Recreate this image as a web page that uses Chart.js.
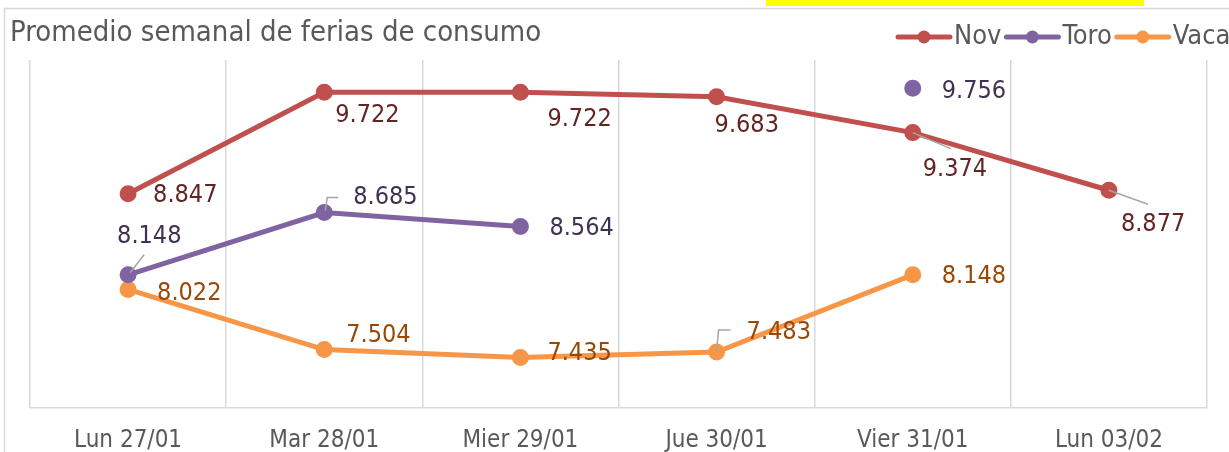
<!DOCTYPE html>
<html>
<head>
<meta charset="utf-8">
<script src="https://cdn.jsdelivr.net/npm/chart.js@4"></script>
<style>
  html, body { margin: 0; padding: 0; background: #fff; }
  #wrap { position: relative; width: 1229px; height: 452px; overflow: hidden; }
  #mark { position: absolute; left: 766px; top: 0; width: 378px; height: 6px; background: #ffff00; }
  canvas { position: absolute; left: 0; top: 0; }
</style>
</head>
<body>
<div id="wrap">
  <canvas id="chart" width="1229" height="452"></canvas>
  <div id="mark"></div>
</div>
<script>
// data
const dias = ['Lun 27/01', 'Mar 28/01', 'Mier 29/01', 'Jue 30/01', 'Vier 31/01', 'Lun 03/02'];
const nov  = [8.847, 9.722, 9.722, 9.683, 9.374, 8.877];
const toro = [8.148, 8.685, 8.564, null, 9.756, null];
const vaca = [8.022, 7.504, 7.435, 7.483, 8.148, null];

const FONT = '"DejaVu Sans Condensed", "DejaVu Sans", sans-serif';

// label placement: [dx, dy] of text left/middle relative to the point
const labelPos = {
    Nov:  [[25, 2], [11, 23], [27, 27], [-2, 29], [10, 37], [12, 34]],
    Toro: [[-11, -38], [29, -15], [29, 2], null, [29, 3], null],
    Vaca: [[29, 4], [22, -14], [27, -4], [30, -19], [29, 2], null]
};
// leader lines, relative to the point
const leaders = {
    Nov:  { 4: [[0, 0], [38, 16]], 5: [[0, 0], [39, 14]] },
    Toro: { 0: [[2, -2], [16, -20]], 1: [[1, -2], [3, -15], [14, -15]] },
    Vaca: { 3: [[0, -2], [2, -22], [14, -22]] }
};

const labelPlugin = {
    id: 'labels',
    afterDatasetsDraw(chart) {
        const ctx = chart.ctx;
        ctx.save();
        chart.data.datasets.forEach((ds, i) => {
            const meta = chart.getDatasetMeta(i);
            meta.data.forEach((pt, j) => {
                if (ds.data[j] == null) return;
                const lead = (leaders[ds.label] || {})[j];
                if (lead) {
                    ctx.strokeStyle = '#a6a6a6';
                    ctx.lineWidth = 1.5;
                    ctx.beginPath();
                    lead.forEach((p, k) => {
                        if (k === 0) ctx.moveTo(pt.x + p[0], pt.y + p[1]);
                        else ctx.lineTo(pt.x + p[0], pt.y + p[1]);
                    });
                    ctx.stroke();
                }
                const off = labelPos[ds.label][j];
                ctx.fillStyle = ds.labelColor;
                ctx.font = '25px ' + FONT;
                ctx.textAlign = 'left';
                ctx.textBaseline = 'middle';
                ctx.fillText(ds.data[j].toFixed(3), pt.x + off[0], pt.y + off[1]);
            });
        });
        ctx.restore();
    }
};

const framePlugin = {
    id: 'frame',
    afterDraw(chart) {
        const ctx = chart.ctx;
        ctx.save();
        // panel border
        ctx.strokeStyle = '#d9d9d9';
        ctx.lineWidth = 1.5;
        ctx.beginPath();
        ctx.moveTo(4.5, 452);
        ctx.lineTo(4.5, 8.5);
        ctx.lineTo(1229, 8.5);
        ctx.stroke();
        // title
        ctx.fillStyle = '#595959';
        ctx.font = '29px ' + FONT;
        ctx.textAlign = 'left';
        ctx.textBaseline = 'middle';
        ctx.fillText('Promedio semanal de ferias de consumo', 10, 33);
        // legend
        let x = 896;
        const y = 37;
        ctx.font = '27px ' + FONT;
        chart.data.datasets.forEach(ds => {
            ctx.strokeStyle = ds.borderColor;
            ctx.lineWidth = 5;
            ctx.lineCap = 'round';
            ctx.beginPath();
            ctx.moveTo(x + 2, y);
            ctx.lineTo(x + 54, y);
            ctx.stroke();
            ctx.fillStyle = ds.borderColor;
            ctx.beginPath();
            ctx.arc(x + 28, y, 6.5, 0, Math.PI * 2);
            ctx.fill();
            ctx.fillStyle = '#595959';
            ctx.fillText(ds.label, x + 58, y);
            x += 58 + ctx.measureText(ds.label).width + 3;
        });
        ctx.restore();
    }
};

function serie(label, data, color, labelColor) {
    return {
        label: label,
        data: data,
        borderColor: color,
        backgroundColor: color,
        pointBackgroundColor: color,
        pointBorderColor: color,
        borderWidth: 5,
        pointRadius: 6,
        pointHoverRadius: 6,
        tension: 0,
        spanGaps: false,
        labelColor: labelColor
    };
}

new Chart(document.getElementById('chart'), {
    type: 'line',
    data: {
        labels: dias,
        datasets: [
            serie('Nov', nov, '#c0504d', '#632523'),
            serie('Toro', toro, '#8064a2', '#3f3151'),
            serie('Vaca', vaca, '#f79646', '#984807')
        ]
    },
    options: {
        responsive: false,
        animation: false,
        layout: { padding: { left: 30, right: 22, top: 60, bottom: 0 } },
        plugins: {
            legend: { display: false },
            title: { display: false },
            tooltip: { enabled: false }
        },
        scales: {
            x: {
                offset: true,
                grid: { offset: true, color: '#d9d9d9', lineWidth: 1.5, drawTicks: false },
                border: { color: '#d9d9d9', width: 1.5 },
                ticks: { color: '#595959', font: { family: FONT, size: 24 }, padding: 18, maxRotation: 0 },
                afterFit(scale) { scale.height = 44; }
            },
            y: {
                display: false,
                min: 7,
                max: 10
            }
        }
    },
    plugins: [labelPlugin, framePlugin]
});
</script>
</body>
</html>
